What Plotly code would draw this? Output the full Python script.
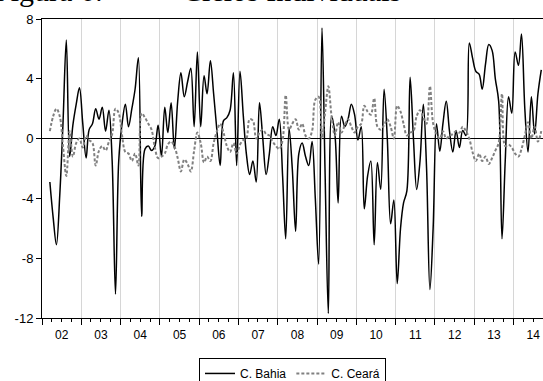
import pandas as pd
import plotly.graph_objects as go

start_month = "2002-03-01"

bahia = [
    -2.9, -5.3, -7.1, -3.8, 1.0, 6.6, -1.2, 0.9, 2.3, 3.4,            # 2002 Mar-Dec
    1.0, -1.3, 0.6, 1.0, 2.0, 1.3, 2.1, 0.5, 1.9, -1.5, -10.4, -1.5,  # 2003
    1.0, 2.3, 0.8, 2.0, 3.3, 5.4, -5.2, -0.7, -0.5, -0.8, -0.5, 0.9,  # 2004
    -1.2, 2.1, 0.4, 2.4, -0.7, 2.5, 4.4, 2.8, 3.8, 4.7, 0.8, 5.8,     # 2005
    0.8, 4.2, 3.0, 5.2, 3.0, 0.5, -1.8, 1.2, 1.4, 1.9, 4.4, -1.8,     # 2006
    4.5, 1.5, -1.0, -2.4, -1.5, -2.9, 2.4, 0.0, -2.4, -1.0, 0.8, 0.2, # 2007
    1.3, -2.5, -6.7, 0.7, -2.0, -6.2, -1.0, -0.3, -1.2, -1.8, -0.2, -4.0,  # 2008
    -8.4, 7.4, -2.0, -11.7, 1.5, 0.3, -4.3, 1.5, 0.8, 1.3, 2.3, 1.6,  # 2009
    -0.1, 0.8, -4.7, -2.5, -1.5, -7.1, -1.6, -3.4, 3.3, 0.0, -5.7, -4.1,  # 2010
    -9.7, -6.0, -4.3, -3.5, 4.1, 0.0, -3.4, -1.5, 2.3, -2.0, -10.1, -6.0, # 2011
    1.0, -0.85, 1.0, 2.5, 0.5, -0.9, 0.55, -0.6, 0.55, 0.2, 6.4, 5.4,  # 2012
    4.5, 4.3, 3.3, 5.0, 6.3, 5.9, 4.0, 2.5, -6.7, -1.5, 2.8, 1.7,     # 2013
    5.8, 4.9, 7.0, 2.0, -0.9, 2.8, 0.3, 3.0, 4.6,                     # 2014
]

ceara = [
    0.5, 1.5, 2.0, 1.5, -0.5, -2.5, 0.5, -1.2, -0.3, 0.0,             # 2002 Mar-Dec
    -0.6, 0.2, -0.1, -0.3, -1.8, -0.8, -0.5, -0.8, -0.2, 0.3, 2.0, 1.7,  # 2003
    0.2, -0.9, -1.0, -1.5, -1.0, -1.8, 1.7, 1.4, 1.0, 0.6, -0.6, -1.3,   # 2004
    -1.2, -1.0, -0.4, -0.2, -0.5, -1.3, -2.2, -1.4, -1.7, -2.2, -0.8, 0.4,  # 2005
    -0.3, -1.6, -1.2, -1.5, -0.3, 0.5, 1.0, 0.4, -0.5, -0.9, -0.3, -1.0,   # 2006
    -0.4, -0.1, 0.0, 1.3, 1.2, 0.0, 0.4, 0.6, 0.3, 0.2, -0.2, -0.5,       # 2007
    -0.7, -0.1, 2.9, 0.6, 1.0, 1.3, 0.6, 1.0, 0.2, 0.0, 0.5, 2.6,         # 2008
    2.8, 0.0, 1.7, 3.5, 1.5, 0.2, 1.1, 0.4, 0.9, 1.3, 0.8, 0.4,           # 2009
    0.8, 1.0, 2.2, 1.8, 1.6, 2.7, 0.8, 0.6, 0.9, 1.3, 0.8, 0.0,           # 2010
    2.2, 1.8, 1.0, 0.2, 0.4, 0.5, 1.5, 1.9, 1.4, 1.0, 3.5, 1.0,           # 2011
    0.3, 0.0, 0.5, 0.0, 0.2, 0.3, 0.5, 0.4, 0.8, 0.5, 0.0, -0.9,          # 2012
    -1.5, -1.0, -1.5, -1.2, -1.7, -1.3, -0.8, -0.3, 3.0, -0.5, -0.4, -0.6, # 2013
    -1.0, -1.2, -0.7, 0.2, 1.1, 0.0, 0.8, -0.2, 0.5,                      # 2014
]

series_names = ["C. Bahia", "C. Ceará"]
y_ticks = [-12, -8, -4, 0, 4, 8]

dates = pd.date_range(start_month, periods=len(bahia), freq="MS") + pd.Timedelta(days=14)

fig = go.Figure()
fig.add_trace(go.Scatter(
    x=dates, y=bahia, name=series_names[0], mode="lines",
    line=dict(color="black", width=1.5, shape="spline", smoothing=1.0),
))
fig.add_trace(go.Scatter(
    x=dates[:len(ceara)], y=ceara, name=series_names[1], mode="lines",
    line=dict(color="#808080", width=2, dash="3px,2px", shape="spline", smoothing=1.0),
))

serif = "Liberation Serif, Times New Roman, serif"
fig.update_layout(
    width=543, height=381,
    margin=dict(l=42, r=0, t=19, b=63, autoexpand=False),
    paper_bgcolor="white", plot_bgcolor="white",
    font=dict(family="Liberation Sans, Arial, sans-serif", size=12, color="black"),
    showlegend=True,
    legend=dict(
        orientation="h", x=0.5, xanchor="center", y=-0.1336, yanchor="top",
        bordercolor="black", borderwidth=1, bgcolor="white",
        font=dict(size=12), itemwidth=30, tracegroupgap=0,
    ),
    annotations=[
        dict(text="Figura 6:", xref="paper", yref="paper", x=-0.100, y=1.033,
             xanchor="left", yanchor="bottom", showarrow=False,
             font=dict(family=serif, size=30)),
        dict(text="Ciclos Individuais", xref="paper", yref="paper", x=0.2754, y=1.033,
             xanchor="left", yanchor="bottom", showarrow=False,
             font=dict(family=serif, size=30)),
    ],
)

fig.update_xaxes(
    range=["2002-01-01", "2014-10-01"],
    dtick="M12", tick0="2002-01-01", tickformat="%y", ticklabelmode="period",
    ticks="outside", ticklen=6, tickcolor="black", tickwidth=1,
    showgrid=True, gridcolor="#d6d6d6", gridwidth=1,
    showline=True, linecolor="black", linewidth=1, mirror=True,
    minor=dict(dtick="M3", ticks="outside", ticklen=3, tickcolor="black", showgrid=False),
    tickfont=dict(size=12), zeroline=False,
)
fig.update_yaxes(
    range=[-12, 8], tickvals=y_ticks, ticktext=[str(v) for v in y_ticks],
    ticks="outside", ticklen=5, tickcolor="black",
    showgrid=False, showline=True, linecolor="black", linewidth=1,
    zeroline=True, zerolinecolor="black", zerolinewidth=1,
    tickfont=dict(size=13),
)

fig.write_html(
    "out.html",
    config={"displayModeBar": False},
    post_script="document.body.style.margin='0';document.body.style.padding='0';document.body.style.overflow='hidden';",
)
